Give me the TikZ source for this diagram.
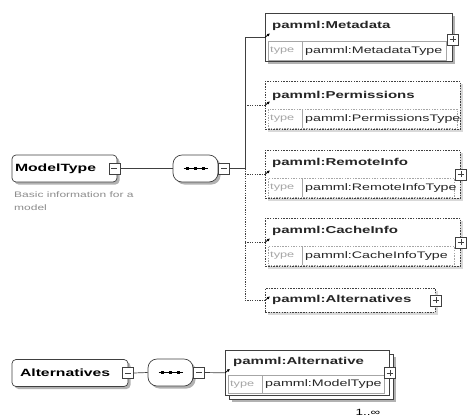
\documentclass[tikz,border=0pt]{standalone}
\usepackage{fontspec}
\setmainfont{Liberation Sans}[FakeStretch=1.5]
\usetikzlibrary{positioning,shadows,calc,arrows.meta}
\newcommand\elnamefont{\bfseries\fontsize{10}{12}\selectfont}
\newcommand\eltypefont{\fontsize{9.5}{11}\selectfont}
\tikzset{
  boxshadow/.style={drop shadow={shadow xshift=2.5pt,shadow yshift=-2.5pt,fill=black!30,opacity=1}},
  optshadow/.style={drop shadow={shadow xshift=2.5pt,shadow yshift=-2.5pt,fill=black!15,opacity=1}},
  elem/.style={draw=black!75,fill=white,line width=0.7pt,anchor=north west,inner sep=0pt,minimum height=48pt},
  optional/.style={dash pattern=on 1.5pt off 1.2pt},
  ctype/.style={draw=black!75,fill=white,line width=0.7pt,rounded corners=4pt,minimum height=27pt,
    inner xsep=3pt,align=left,font=\bfseries\fontsize{10.5}{12}\selectfont,boxshadow},
  seqnode/.style={draw=black!75,fill=white,line width=0.7pt,rounded corners=9pt,minimum width=45pt,
    minimum height=27pt,boxshadow},
  elname/.style={anchor=west,inner sep=0pt,font=\elnamefont,text=black!85},
  typerow/.style={draw=black!35,anchor=north west,inner sep=0pt,minimum height=19pt},
  typelbl/.style={anchor=west,inner sep=0pt,xshift=2pt,font=\fontsize{8.5}{10}\selectfont,text=black!35},
  typetxt/.style={anchor=west,inner sep=0pt,font=\eltypefont,text=black!85},
  conn/.style={draw=black!75,line width=0.7pt},
  optconn/.style={conn,dash pattern=on 1.2pt off 1.2pt},
  marker/.style={-{Latex[length=3pt,width=3pt]},line width=0.8pt,black},
  minusbox/.style={draw=black!75,fill=white,minimum size=11pt,inner sep=0pt,
    path picture={\draw[black!75] ([xshift=2.5pt]path picture bounding box.west) -- ([xshift=-2.5pt]path picture bounding box.east);}},
  plusbox/.style={minusbox,
    path picture={\draw[black!75] ([xshift=2.5pt]path picture bounding box.west) -- ([xshift=-2.5pt]path picture bounding box.east)
      ([yshift=-2.5pt]path picture bounding box.north) -- ([yshift=2.5pt]path picture bounding box.south);}}
}
\begin{document}
\begin{tikzpicture}[x=1pt,y=-1pt]
\useasboundingbox (0,0) rectangle (470,418);

% ModelType and its sequence
\node[ctype,text width=99pt] (mt) at (64.5,168.5) {ModelType};
\node[minusbox] (mt-box) at ([xshift=-3pt]mt.east) {};
\node[anchor=north west,inner sep=0pt,align=left,text=black!45,font=\fontsize{8}{13}\selectfont] (mt-doc) at (14,191) {Basic information for a\\model};
\node[seqnode] (seq) at (195.5,168.5) {};
\draw[black] ([xshift=-12pt]seq.center) -- ([xshift=12pt]seq.center);
\foreach \dx in {-8,0,8}
  \fill ([xshift=\dx pt]seq.center) +(-1.6,-1.6) rectangle +(1.6,1.6);
\node[minusbox,right=0pt of seq] (seq-box) {};
\draw[conn] (mt-box.east) -- (seq.west);
\coordinate (bus) at (245,168.5);

% child elements
\node[elem,boxshadow,minimum width=187pt] (meta) at (265,13) {};
\node[elname] (meta-name) at ($(meta.north west)+(7,13)$) {pamml:Metadata};
\node[typerow,minimum width=178pt] (meta-type) at ($(meta.north west)+(3,28)$) {};
\node[typelbl] at (meta-type.west) {type};
\draw[black!35] ($(meta-type.north west)+(34,0)$) -- ($(meta-type.south west)+(34,0)$);
\node[typetxt] at ($(meta-type.west)+(37,0)$) {pamml:MetadataType};
\node[plusbox] (meta-box) at ([yshift=-2pt]meta.east) {};

\node[elem,optional,optshadow,minimum width=195pt] (perm) at (265,81) {};
\node[elname] (perm-name) at ($(perm.north west)+(7,15)$) {pamml:Permissions};
\node[typerow,optional,minimum width=189pt] (perm-type) at ($(perm.north west)+(3,28)$) {};
\node[typelbl] at (perm-type.west) {type};
\draw[black!35] ($(perm-type.north west)+(34,0)$) -- ($(perm-type.south west)+(34,0)$);
\node[typetxt] at ($(perm-type.west)+(37,0)$) {pamml:PermissionsType};

\node[elem,optional,optshadow,minimum width=195pt] (remote) at (265,150) {};
\node[elname] (remote-name) at ($(remote.north west)+(7,13)$) {pamml:RemoteInfo};
\node[typerow,optional,minimum width=186pt] (remote-type) at ($(remote.north west)+(3,28)$) {};
\node[typelbl] at (remote-type.west) {type};
\draw[black!35] ($(remote-type.north west)+(34,0)$) -- ($(remote-type.south west)+(34,0)$);
\node[typetxt] at ($(remote-type.west)+(37,0)$) {pamml:RemoteInfoType};
\node[plusbox] (remote-box) at (remote.east) {};

\node[elem,optional,optshadow,minimum width=195pt] (cache) at (265,218) {};
\node[elname] (cache-name) at ($(cache.north west)+(7,13)$) {pamml:CacheInfo};
\node[typerow,optional,minimum width=186pt] (cache-type) at ($(cache.north west)+(3,28)$) {};
\node[typelbl] at (cache-type.west) {type};
\draw[black!35] ($(cache-type.north west)+(34,0)$) -- ($(cache-type.south west)+(34,0)$);
\node[typetxt] at ($(cache-type.west)+(37,0)$) {pamml:CacheInfoType};
\node[plusbox] (cache-box) at (cache.east) {};

\node[elem,optional,optshadow,minimum width=170pt,minimum height=24pt] (alts) at (265,288) {};
\node[elname] (alts-name) at ($(alts.west)+(7,0)$) {pamml:Alternatives};
\node[plusbox] (alts-box) at (alts.east) {};

% connectors to the children
\draw[conn] (seq-box.east) -- (bus) |- (meta.west);
\draw[optconn] (bus) -- (bus |- alts.west);
\draw[optconn] (bus |- perm.west) -- (perm.west);
\draw[optconn] (bus |- remote.west) -- (remote.west);
\draw[optconn] (bus |- cache.west) -- (cache.west);
\draw[optconn] (bus |- alts.west) -- (alts.west);
\foreach \el in {meta,perm,remote,cache,alts}
  \draw[marker] (\el.west) -- ++(5,-4);

% Alternatives and its sequence
\node[ctype,text width=100pt,inner xsep=8pt] (at) at (70,373) {Alternatives};
\node[minusbox] (at-box) at ([xshift=-0.5pt]at.east) {};
\node[seqnode] (seq2) at (170.5,372.5) {};
\draw[black] ([xshift=-12pt]seq2.center) -- ([xshift=12pt]seq2.center);
\foreach \dx in {-8,0,8}
  \fill ([xshift=\dx pt]seq2.center) +(-1.6,-1.6) rectangle +(1.6,1.6);
\node[minusbox,right=0pt of seq2] (seq2-box) {};
\draw[conn] (at-box.east) -- (seq2.west);

\node[elem,boxshadow,minimum width=164pt,minimum height=45pt] (alt-back) at (229,354) {};
\node[elem,minimum width=164pt,minimum height=45pt] (alt) at (225,350) {};
\node[elname] (alt-name) at ($(alt.north west)+(8,12)$) {pamml:Alternative};
\node[typerow,minimum width=156pt,minimum height=18pt] (alt-type) at ($(alt.north west)+(3,25)$) {};
\node[typelbl] at (alt-type.west) {type};
\draw[black!35] ($(alt-type.north west)+(34,0)$) -- ($(alt-type.south west)+(34,0)$);
\node[typetxt] at ($(alt-type.west)+(37,0)$) {pamml:ModelType};
\node[plusbox] (alt-box) at (alt.east) {};
\node[inner sep=0pt,font=\fontsize{9}{10}\selectfont] (alt-occ) at (368,412) {1..∞};
\draw[conn] (seq2-box.east) -- (alt.west);
\draw[marker] (alt.west) -- ++(5,-4);
\end{tikzpicture}
\end{document}
